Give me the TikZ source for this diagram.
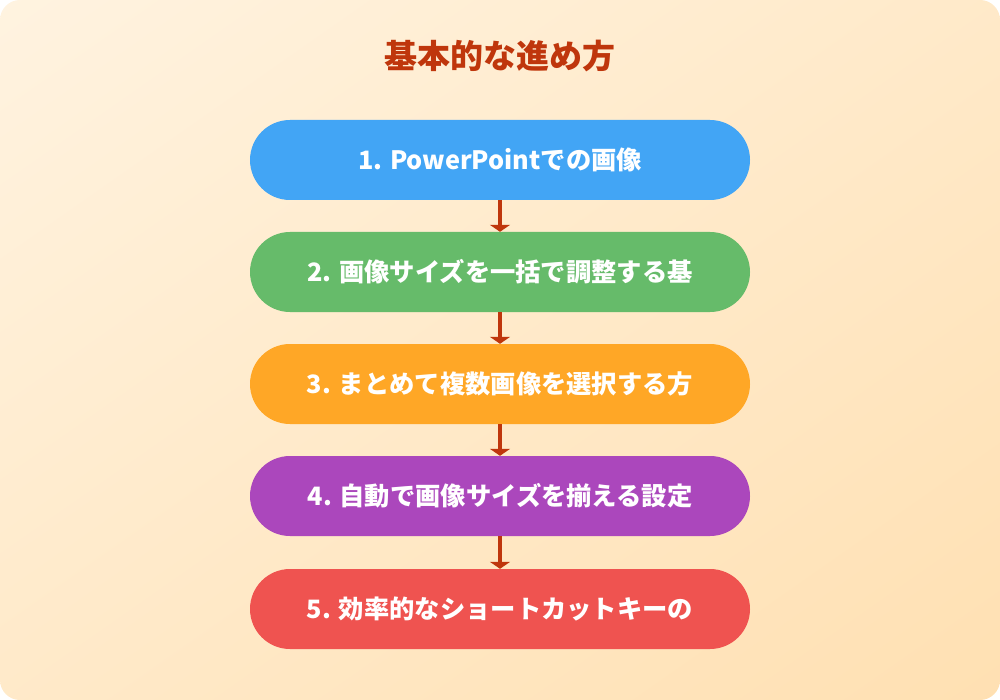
\documentclass[tikz,border=0pt]{standalone}
\usepackage{fontspec}
\newfontfamily\jpfont{Noto Sans CJK JP}
\usetikzlibrary{positioning,arrows.meta,shadings}
\definecolor{bgtop}{HTML}{FFF3E0}
\definecolor{bgbot}{HTML}{FFE0B2}
\definecolor{titlered}{HTML}{BF360C}
\definecolor{stepblue}{HTML}{42A5F5}
\definecolor{stepgreen}{HTML}{66BB6A}
\definecolor{steporange}{HTML}{FFA726}
\definecolor{steppurple}{HTML}{AB47BC}
\definecolor{stepred}{HTML}{EF5350}
\tikzset{
  stepbox/.style={rectangle, rounded corners=40pt, minimum width=500pt, minimum height=80pt,
    inner sep=0pt, text=white, font=\jpfont\bfseries\fontsize{25.3}{30}\selectfont},
  flow/.style={titlered, line width=3.5pt, -{Triangle[width=20pt,length=7pt]}}
}
\begin{document}
\begin{tikzpicture}[x=1pt,y=-1pt]
            \useasboundingbox (0,0) rectangle (1000,700);
            \shade[upper left=bgtop, lower right=bgbot, upper right=bgtop!50!bgbot, lower left=bgtop!50!bgbot, rounded corners=20pt] (0,0) rectangle (1000,700);
            \node[text=titlered, font=\jpfont\bfseries\fontsize{33}{38}\selectfont] (title) at (500,56) {基本的な進め方};
            \node[stepbox, fill=stepblue] (s1) at (500,160) {1. PowerPointでの画像};
            \node[stepbox, fill=stepgreen] (s2) at (500,272) {2. 画像サイズを一括で調整する基};
            \node[stepbox, fill=steporange] (s3) at (500,384) {3. まとめて複数画像を選択する方};
            \node[stepbox, fill=steppurple] (s4) at (500,496) {4. 自動で画像サイズを揃える設定};
            \node[stepbox, fill=stepred] (s5) at (500,609) {5. 効率的なショートカットキーの};
            \draw[flow] (s1) -- (s2);
            \draw[flow] (s2) -- (s3);
            \draw[flow] (s3) -- (s4);
            \draw[flow] (s4) -- (s5);
        \end{tikzpicture}
\end{document}
